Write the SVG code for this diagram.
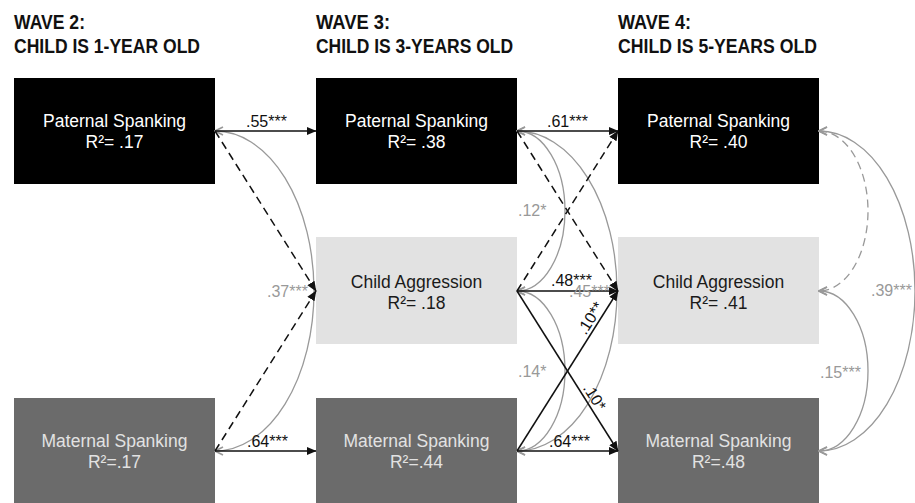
<svg xmlns="http://www.w3.org/2000/svg" width="915" height="503" viewBox="0 0 915 503">
<defs>
<style>
.hdr{font-family:"Liberation Sans",Arial,sans-serif;font-weight:bold;font-size:21px;fill:#111}
.nt{font-family:"Liberation Sans",Arial,sans-serif;font-size:17.5px;text-anchor:middle}
.lb{font-family:"Liberation Sans",Arial,sans-serif;font-size:16px;fill:#111}
.lg{font-family:"Liberation Sans",Arial,sans-serif;font-size:16px;fill:#999}
.blk{stroke:#111;stroke-width:1.5;fill:none;marker-end:url(#ah)}
.dsh{stroke:#111;stroke-width:1.5;fill:none;stroke-dasharray:8 5;marker-end:url(#ah)}
.gry{stroke:#999;stroke-width:1.3;fill:none;marker-start:url(#ch);marker-end:url(#ch)}
.gdsh{stroke:#999;stroke-width:1.3;fill:none;stroke-dasharray:8 5;marker-start:url(#ch);marker-end:url(#ch)}
</style>
<marker id="ah" markerUnits="userSpaceOnUse" viewBox="0 0 10 10" markerWidth="10" markerHeight="10" refX="9.5" refY="5" orient="auto">
<path d="M0,0.8 L10,5 L0,9.2 z" fill="#111"/>
</marker>
<marker id="ch" markerUnits="userSpaceOnUse" viewBox="0 0 10 10" markerWidth="10" markerHeight="10" refX="9" refY="5" orient="auto-start-reverse">
<path d="M1,1 L9,5 L1,9" fill="none" stroke="#999" stroke-width="1.6"/>
</marker>
</defs>
<rect width="915" height="503" fill="#fff"/>

<g id="headers">
<text class="hdr" x="14" y="29" textLength="71" lengthAdjust="spacingAndGlyphs">WAVE 2:</text>
<text class="hdr" x="14" y="53" textLength="186" lengthAdjust="spacingAndGlyphs">CHILD IS 1-YEAR OLD</text>
<text class="hdr" x="316" y="29" textLength="74" lengthAdjust="spacingAndGlyphs">WAVE 3:</text>
<text class="hdr" x="316" y="53" textLength="197" lengthAdjust="spacingAndGlyphs">CHILD IS 3-YEARS OLD</text>
<text class="hdr" x="618" y="29" textLength="73" lengthAdjust="spacingAndGlyphs">WAVE 4:</text>
<text class="hdr" x="618" y="53" textLength="199" lengthAdjust="spacingAndGlyphs">CHILD IS 5-YEARS OLD</text>
</g>

<g id="w2-paternal">
<rect x="14" y="78" width="201" height="106" fill="#000"/>
<text class="nt" x="114.5" y="127" fill="#fff">Paternal Spanking</text>
<text class="nt" x="114.5" y="148" fill="#fff">R²= .17</text>
</g>
<g id="w2-maternal">
<rect x="14" y="398" width="201" height="106" fill="#6b6b6b"/>
<text class="nt" x="114.5" y="447" fill="#e2e2e2">Maternal Spanking</text>
<text class="nt" x="114.5" y="468" fill="#e2e2e2">R²=.17</text>
</g>
<g id="w3-paternal">
<rect x="316" y="78" width="201" height="106" fill="#000"/>
<text class="nt" x="416.5" y="127" fill="#fff">Paternal Spanking</text>
<text class="nt" x="416.5" y="148" fill="#fff">R²= .38</text>
</g>
<g id="w3-child">
<rect x="316" y="237" width="201" height="107" fill="#e2e2e2"/>
<text class="nt" x="416.5" y="288" fill="#1a1a1a">Child Aggression</text>
<text class="nt" x="416.5" y="309" fill="#1a1a1a">R²= .18</text>
</g>
<g id="w3-maternal">
<rect x="316" y="398" width="201" height="106" fill="#6b6b6b"/>
<text class="nt" x="416.5" y="447" fill="#e2e2e2">Maternal Spanking</text>
<text class="nt" x="416.5" y="468" fill="#e2e2e2">R²=.44</text>
</g>
<g id="w4-paternal">
<rect x="618" y="78" width="201" height="106" fill="#000"/>
<text class="nt" x="718.5" y="127" fill="#fff">Paternal Spanking</text>
<text class="nt" x="718.5" y="148" fill="#fff">R²= .40</text>
</g>
<g id="w4-child">
<rect x="618" y="237" width="201" height="107" fill="#e2e2e2"/>
<text class="nt" x="718.5" y="288" fill="#1a1a1a">Child Aggression</text>
<text class="nt" x="718.5" y="309" fill="#1a1a1a">R²= .41</text>
</g>
<g id="w4-maternal">
<rect x="618" y="398" width="201" height="106" fill="#6b6b6b"/>
<text class="nt" x="718.5" y="447" fill="#e2e2e2">Maternal Spanking</text>
<text class="nt" x="718.5" y="468" fill="#e2e2e2">R²=.48</text>
</g>

<g id="connectors">
<!-- W2 -> W3 -->
<path class="gry" d="M215,131 A99,160 0 0 1 215,451"/>
<path class="blk" d="M215,131 L316,131"/>
<path class="blk" d="M215,451 L316,451"/>
<path class="dsh" d="M215,131 L316,291"/>
<path class="dsh" d="M215,451 L316,291"/>
<!-- W3 correlations -->
<path class="gry" d="M517,131 A48,80 0 0 1 517,291"/>
<path class="gry" d="M517,291 A48,80 0 0 1 517,451"/>
<path class="gry" d="M517,131 A100,160 0 0 1 517,451"/>
<!-- W3 -> W4 -->
<path class="blk" d="M517,131 L618,131"/>
<path class="blk" d="M517,291 L618,291"/>
<path class="blk" d="M517,451 L618,451"/>
<path class="dsh" d="M517,131 L618,291"/>
<path class="dsh" d="M517,291 L618,131"/>
<path class="blk" d="M517,291 L618,451"/>
<path class="blk" d="M517,451 L618,291"/>
<!-- W4 correlations -->
<path class="gdsh" d="M819,131 A49,80 0 0 1 819,291"/>
<path class="gry" d="M819,291 A49,80 0 0 1 819,451"/>
<path class="gry" d="M819,131 A96,160 0 0 1 819,451"/>
</g>

<g id="labels">
<text class="lb" x="246" y="127">.55***</text>
<text class="lb" x="247" y="447">.64***</text>
<text class="lg" x="267" y="297">.37***</text>
<text class="lb" x="547" y="127">.61***</text>
<text class="lg" x="518" y="216">.12*</text>
<text class="lb" x="551" y="286">.48***</text>
<text class="lg" x="569" y="297">.45***</text>
<text class="lg" x="518" y="377">.14*</text>
<text class="lb" x="549" y="447">.64***</text>
<text class="lb" x="595" y="321" text-anchor="middle" transform="rotate(-57.7 595 321)">.10**</text>
<text class="lb" x="590" y="400" text-anchor="middle" transform="rotate(57.7 590 400)">.10*</text>
<text class="lg" x="820" y="378">.15***</text>
<text class="lg" x="871" y="296">.39***</text>
</g>
</svg>
